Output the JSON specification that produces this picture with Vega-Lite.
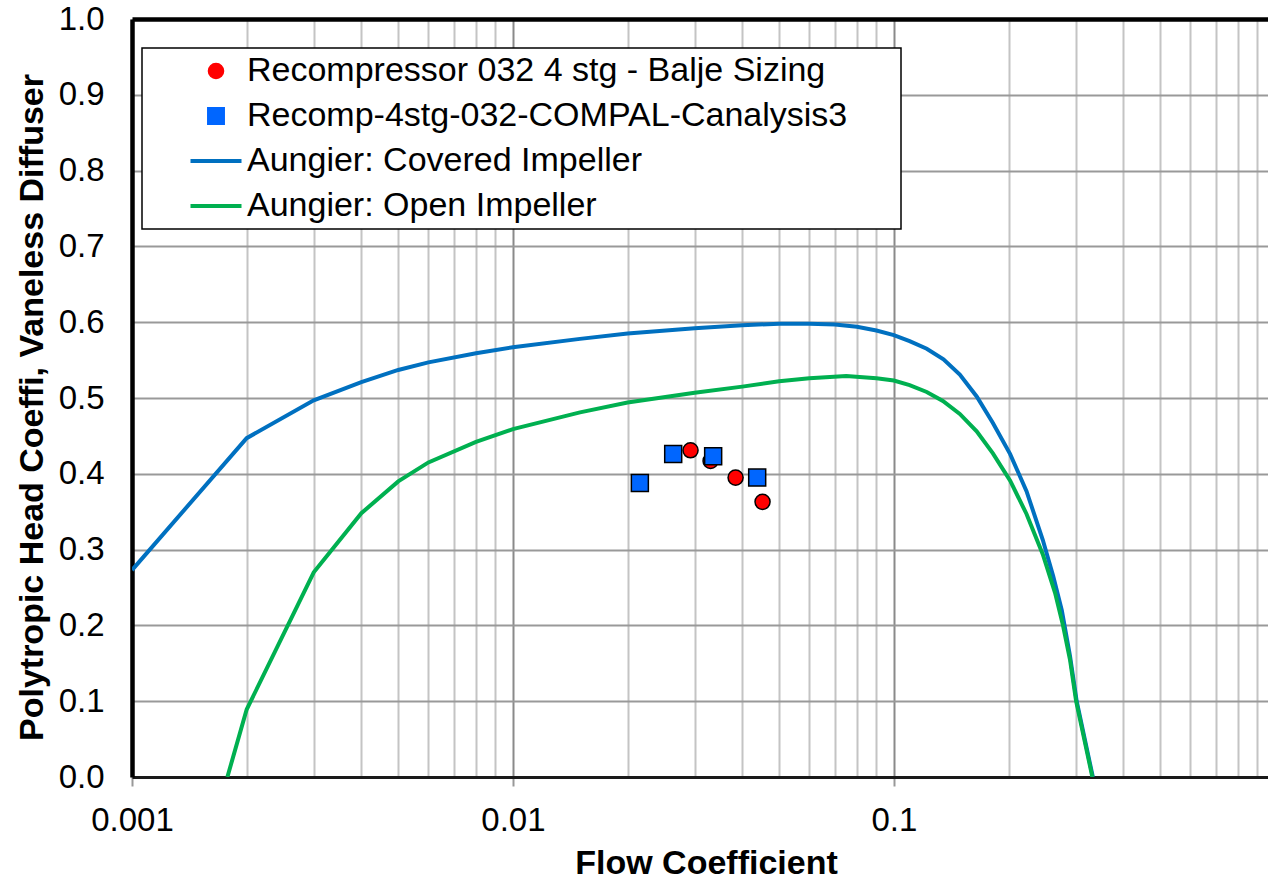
{
  "$schema": "https://vega.github.io/schema/vega-lite/v6.json",
  "width": 1136,
  "height": 758,
  "autosize": "none",
  "padding": {"left": 132, "top": 19, "right": 0, "bottom": 102},
  "background": "white",
  "config": {"view": {"stroke": null}, "font": "Liberation Sans"},
  "data": {"values": [
    {"series": "Aungier: Covered Impeller", "phi": 0.001, "psi": 0.273},
    {"series": "Aungier: Covered Impeller", "phi": 0.002, "psi": 0.447},
    {"series": "Aungier: Covered Impeller", "phi": 0.003, "psi": 0.497},
    {"series": "Aungier: Covered Impeller", "phi": 0.004, "psi": 0.521},
    {"series": "Aungier: Covered Impeller", "phi": 0.005, "psi": 0.537},
    {"series": "Aungier: Covered Impeller", "phi": 0.006, "psi": 0.547},
    {"series": "Aungier: Covered Impeller", "phi": 0.008, "psi": 0.559},
    {"series": "Aungier: Covered Impeller", "phi": 0.01, "psi": 0.567},
    {"series": "Aungier: Covered Impeller", "phi": 0.015, "psi": 0.578},
    {"series": "Aungier: Covered Impeller", "phi": 0.02, "psi": 0.585},
    {"series": "Aungier: Covered Impeller", "phi": 0.03, "psi": 0.592},
    {"series": "Aungier: Covered Impeller", "phi": 0.04, "psi": 0.596},
    {"series": "Aungier: Covered Impeller", "phi": 0.05, "psi": 0.598},
    {"series": "Aungier: Covered Impeller", "phi": 0.06, "psi": 0.598},
    {"series": "Aungier: Covered Impeller", "phi": 0.07, "psi": 0.597},
    {"series": "Aungier: Covered Impeller", "phi": 0.08, "psi": 0.594},
    {"series": "Aungier: Covered Impeller", "phi": 0.09, "psi": 0.589},
    {"series": "Aungier: Covered Impeller", "phi": 0.1, "psi": 0.583},
    {"series": "Aungier: Covered Impeller", "phi": 0.11, "psi": 0.575},
    {"series": "Aungier: Covered Impeller", "phi": 0.122, "psi": 0.565},
    {"series": "Aungier: Covered Impeller", "phi": 0.135, "psi": 0.551},
    {"series": "Aungier: Covered Impeller", "phi": 0.149, "psi": 0.531},
    {"series": "Aungier: Covered Impeller", "phi": 0.165, "psi": 0.502},
    {"series": "Aungier: Covered Impeller", "phi": 0.182, "psi": 0.467},
    {"series": "Aungier: Covered Impeller", "phi": 0.202, "psi": 0.426},
    {"series": "Aungier: Covered Impeller", "phi": 0.223, "psi": 0.377},
    {"series": "Aungier: Covered Impeller", "phi": 0.246, "psi": 0.313},
    {"series": "Aungier: Covered Impeller", "phi": 0.262, "psi": 0.265},
    {"series": "Aungier: Covered Impeller", "phi": 0.276, "psi": 0.22},
    {"series": "Aungier: Covered Impeller", "phi": 0.29, "psi": 0.16},
    {"series": "Aungier: Covered Impeller", "phi": 0.302, "psi": 0.1},
    {"series": "Aungier: Covered Impeller", "phi": 0.333, "psi": 0.0},
    {"series": "Aungier: Open Impeller", "phi": 0.00178, "psi": 0.0},
    {"series": "Aungier: Open Impeller", "phi": 0.002, "psi": 0.089},
    {"series": "Aungier: Open Impeller", "phi": 0.003, "psi": 0.27},
    {"series": "Aungier: Open Impeller", "phi": 0.004, "psi": 0.348},
    {"series": "Aungier: Open Impeller", "phi": 0.005, "psi": 0.39},
    {"series": "Aungier: Open Impeller", "phi": 0.006, "psi": 0.415},
    {"series": "Aungier: Open Impeller", "phi": 0.008, "psi": 0.442},
    {"series": "Aungier: Open Impeller", "phi": 0.01, "psi": 0.459},
    {"series": "Aungier: Open Impeller", "phi": 0.015, "psi": 0.481},
    {"series": "Aungier: Open Impeller", "phi": 0.02, "psi": 0.494},
    {"series": "Aungier: Open Impeller", "phi": 0.03, "psi": 0.507},
    {"series": "Aungier: Open Impeller", "phi": 0.04, "psi": 0.515},
    {"series": "Aungier: Open Impeller", "phi": 0.05, "psi": 0.522},
    {"series": "Aungier: Open Impeller", "phi": 0.06, "psi": 0.526},
    {"series": "Aungier: Open Impeller", "phi": 0.075, "psi": 0.529},
    {"series": "Aungier: Open Impeller", "phi": 0.09, "psi": 0.526},
    {"series": "Aungier: Open Impeller", "phi": 0.1, "psi": 0.523},
    {"series": "Aungier: Open Impeller", "phi": 0.11, "psi": 0.517},
    {"series": "Aungier: Open Impeller", "phi": 0.122, "psi": 0.508},
    {"series": "Aungier: Open Impeller", "phi": 0.1345, "psi": 0.496},
    {"series": "Aungier: Open Impeller", "phi": 0.149, "psi": 0.479},
    {"series": "Aungier: Open Impeller", "phi": 0.165, "psi": 0.456},
    {"series": "Aungier: Open Impeller", "phi": 0.182, "psi": 0.427},
    {"series": "Aungier: Open Impeller", "phi": 0.202, "psi": 0.391},
    {"series": "Aungier: Open Impeller", "phi": 0.223, "psi": 0.347},
    {"series": "Aungier: Open Impeller", "phi": 0.246, "psi": 0.294},
    {"series": "Aungier: Open Impeller", "phi": 0.265, "psi": 0.243},
    {"series": "Aungier: Open Impeller", "phi": 0.278, "psi": 0.2},
    {"series": "Aungier: Open Impeller", "phi": 0.29, "psi": 0.155},
    {"series": "Aungier: Open Impeller", "phi": 0.301, "psi": 0.1},
    {"series": "Aungier: Open Impeller", "phi": 0.332, "psi": 0.0},
    {"series": "Recompressor 032 4 stg - Balje Sizing", "phi": 0.02926, "psi": 0.431},
    {"series": "Recompressor 032 4 stg - Balje Sizing", "phi": 0.03303, "psi": 0.417},
    {"series": "Recompressor 032 4 stg - Balje Sizing", "phi": 0.03842, "psi": 0.395},
    {"series": "Recompressor 032 4 stg - Balje Sizing", "phi": 0.04522, "psi": 0.363},
    {"series": "Recomp-4stg-032-COMPAL-Canalysis3", "phi": 0.02154, "psi": 0.388},
    {"series": "Recomp-4stg-032-COMPAL-Canalysis3", "phi": 0.02635, "psi": 0.426},
    {"series": "Recomp-4stg-032-COMPAL-Canalysis3", "phi": 0.03355, "psi": 0.423},
    {"series": "Recomp-4stg-032-COMPAL-Canalysis3", "phi": 0.04378, "psi": 0.395}
  ]},
  "encoding": {
    "x": {
      "field": "phi", "type": "quantitative",
      "scale": {"type": "log", "domain": [0.001, 0.96], "nice": false},
      "axis": {
        "title": "Flow Coefficient",
        "titleFontSize": 34, "titleFontWeight": "bold", "titleColor": "black",
        "titleX": 574, "titleY": 96, "titleBaseline": "alphabetic",
        "values": [0.001,0.002,0.003,0.004,0.005,0.006,0.007,0.008,0.009,0.01,0.02,0.03,0.04,0.05,0.06,0.07,0.08,0.09,0.1,0.2,0.3,0.4,0.5,0.6,0.7,0.8,0.9],
        "labelExpr": "datum.value == 0.001 ? '0.001' : datum.value == 0.01 ? '0.01' : datum.value == 0.1 ? '0.1' : ''",
        "labelOverlap": false, "labelFlush": false, "labelBound": false,
        "labelFontSize": 33, "labelColor": "black", "labelBaseline": "top", "labelPadding": 18,
        "grid": true,
        "gridColor": {"condition": {"test": "datum.value == 0.01 || datum.value == 0.1 || datum.value == 0.001", "value": "#8a8a8a"}, "value": "#c4c4c4"},
        "gridWidth": 2,
        "ticks": true, "tickSize": 9, "tickWidth": 2, "tickColor": "#999999",
        "tickOpacity": {"condition": {"test": "datum.value == 0.01 || datum.value == 0.1 || datum.value == 0.001", "value": 1}, "value": 0},
        "domain": true, "domainColor": "#1a1a1a", "domainWidth": 3
      }
    },
    "y": {
      "field": "psi", "type": "quantitative",
      "scale": {"domain": [0, 1], "nice": false, "zero": true},
      "axis": {
        "title": "Polytropic Head Coeffi, Vaneless Diffuser",
        "titleFontSize": 34, "titleFontWeight": "bold", "titleColor": "black",
        "titleX": -100, "titleY": 388, "titleBaseline": "middle", "titleAngle": -90,
        "values": [0, 0.1, 0.2, 0.3, 0.4, 0.5, 0.6, 0.7, 0.8, 0.9, 1.0],
        "format": ".1f",
        "labelFontSize": 33, "labelColor": "black", "labelPadding": 28,
        "ticks": false, "tickSize": 0,
        "grid": true,
        "gridColor": {"condition": {"test": "datum.value == 1", "value": "black"}, "value": "#999999"},
        "gridWidth": {"condition": {"test": "datum.value == 1", "value": 4.5}, "value": 2},
        "domain": true, "domainColor": "black", "domainWidth": 4.5
      }
    },
    "color": {
      "field": "series", "type": "nominal",
      "scale": {
        "domain": ["Recompressor 032 4 stg - Balje Sizing", "Recomp-4stg-032-COMPAL-Canalysis3", "Aungier: Covered Impeller", "Aungier: Open Impeller"],
        "range": ["#FF0000", "#0066FF", "#0070C0", "#00B050"]
      },
      "legend": {
        "orient": "none", "legendX": 10, "legendY": 29, "title": null,
        "padding": 6, "rowPadding": 11,
        "labelFontSize": 34, "labelColor": "black", "labelLimit": 2000,
        "labelExpr": "datum.label + '\u00a0\u00a0\u00a0\u00a0\u00a0\u200b'",
        "symbolSize": 2500, "symbolOffset": 51, "labelOffset": 14,
        "encode": {
          "legend": {"update": {"stroke": {"value": "black"}, "strokeWidth": {"value": 1.5}, "fill": {"value": "white"}}},
          "symbols": {"update": {
            "shape": {"signal": "datum.value === 'Recompressor 032 4 stg - Balje Sizing' ? 'circle' : datum.value === 'Recomp-4stg-032-COMPAL-Canalysis3' ? 'square' : 'stroke'"},
            "fill": {"signal": "datum.value === 'Recompressor 032 4 stg - Balje Sizing' ? '#FF0000' : datum.value === 'Recomp-4stg-032-COMPAL-Canalysis3' ? '#0066FF' : 'transparent'"},
            "stroke": {"signal": "datum.value === 'Aungier: Covered Impeller' ? '#0070C0' : datum.value === 'Aungier: Open Impeller' ? '#00B050' : 'black'"},
            "strokeWidth": {"signal": "datum.value === 'Aungier: Covered Impeller' || datum.value === 'Aungier: Open Impeller' ? 4 : 1.5"},
            "size": {"signal": "datum.value === 'Recompressor 032 4 stg - Balje Sizing' ? 227 : datum.value === 'Recomp-4stg-032-COMPAL-Canalysis3' ? 270 : 2601"},
            "opacity": {"value": 1}
          }}
        }
      }
    }
  },
  "layer": [
    {
      "transform": [{"filter": "datum.series === 'Aungier: Covered Impeller'"}],
      "mark": {"type": "line", "strokeWidth": 4, "clip": true}
    },
    {
      "transform": [{"filter": "datum.series === 'Aungier: Open Impeller'"}],
      "mark": {"type": "line", "strokeWidth": 4, "clip": true}
    },
    {
      "transform": [{"filter": "datum.series === 'Recompressor 032 4 stg - Balje Sizing'"}],
      "mark": {"type": "point", "shape": "circle", "filled": true, "size": 227, "stroke": "black", "strokeWidth": 1.5, "opacity": 1}
    },
    {
      "transform": [{"filter": "datum.series === 'Recomp-4stg-032-COMPAL-Canalysis3'"}],
      "mark": {"type": "point", "shape": "square", "filled": true, "size": 289, "stroke": "black", "strokeWidth": 1.5, "opacity": 1}
    }
  ]
}
